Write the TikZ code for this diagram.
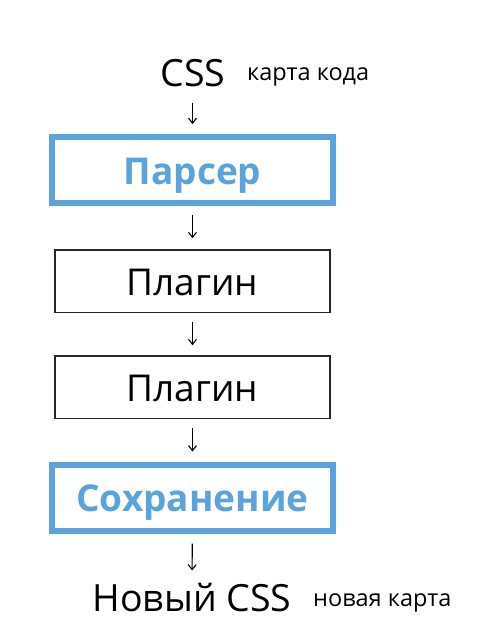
\documentclass[tikz,border=0pt]{standalone}
\usepackage{fontspec}
\setmainfont{Open Sans}
\usetikzlibrary{arrows.meta}
\definecolor{accent}{RGB}{91,163,221}
\begin{document}
\begin{tikzpicture}[x=1pt,y=-1pt,
  bigtext/.style={font=\fontsize{37.5}{40}\selectfont, inner sep=0pt},
  smalltext/.style={font=\fontsize{23.5}{26}\selectfont, inner sep=0pt},
  stagetext/.style={inner sep=0pt, text height=30pt, text depth=2pt},
  keystage/.style={stagetext, draw=accent, line width=6pt, minimum width=281pt, minimum height=66pt,
    text=accent, font=\fontsize{37}{40}\selectfont\bfseries},
  plugstage/.style={stagetext, draw=black!85, line width=1.6pt, minimum width=275pt, minimum height=62.5pt,
    font=\fontsize{37}{40}\selectfont},
  flow/.style={-{Straight Barb[length=5pt,width=8pt,line width=1.1pt]}, line width=1.1pt}
]
\useasboundingbox (0,0) rectangle (483,633);

% source and its map
\node[bigtext, anchor=base] (css) at (193,86) {CSS};
\node[smalltext, anchor=base west] (cssmap) at (247,80) {карта кода};

% processing stages
\node[keystage] (parser) at (192.5,170) {Парсер};
\node[plugstage] (plug1) at (192.5,281.25) {Плагин};
\node[plugstage] (plug2) at (192.5,387.25) {Плагин};
\node[keystage] (save) at (192.5,497.5) {Сохранение};

% result and its map
\node[bigtext, anchor=base] (newcss) at (192,611) {Новый CSS};
\node[smalltext, anchor=base west] (newmap) at (313,606) {новая карта};

% flow between the stages
\draw[flow, shorten <=16pt, shorten >=10pt] (css.south -| parser.north) -- (parser.north);
\draw[flow, shorten <=9pt, shorten >=11pt] (parser) -- (plug1);
\draw[flow, shorten <=9pt, shorten >=10pt] (plug1) -- (plug2);
\draw[flow, shorten <=9pt, shorten >=10pt] (plug2) -- (save);
\draw[flow, shorten <=10pt, shorten >=12pt] (save) -- (newcss);
\end{tikzpicture}
\end{document}
